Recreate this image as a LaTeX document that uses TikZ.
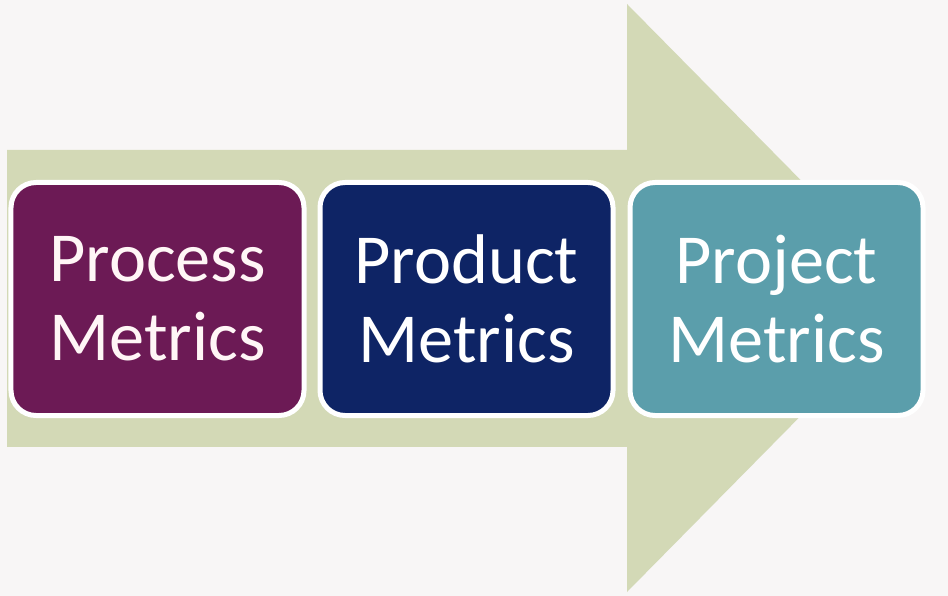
\documentclass[tikz,border=0pt]{standalone}
\usepackage{fontspec}
\setmainfont{Carlito}
\usetikzlibrary{positioning}

\definecolor{pagebg}{HTML}{F8F6F6}
\definecolor{arrowkhaki}{HTML}{D3D9B6}
\definecolor{procpurple}{HTML}{6C1A55}
\definecolor{prodnavy}{HTML}{0E2465}
\definecolor{projteal}{HTML}{5B9EAB}

\begin{document}
\begin{tikzpicture}[
  x=0.2mm, y=-0.2mm,
  metric/.style={draw=white, line width=1mm, rounded corners=5mm, align=center,
    minimum width=58.6mm, minimum height=46.6mm, inner sep=0pt,
    font=\fontsize{40}{45}\selectfont, text=white},
  proc/.style={metric, fill=procpurple, text=pink!15!white},
  prod/.style={metric, fill=prodnavy},
  proj/.style={metric, fill=projteal},
]
\fill[pagebg] (0,0) rectangle (948,596);
\useasboundingbox (0,0) rectangle (948,596);

% big arrow behind the boxes
\fill[arrowkhaki] (7,150) -- (627,150) -- (627,4) -- (917,298)
  -- (627,592) -- (627,447) -- (7,447) -- cycle;

\node[proc] (process) at (157.5,299) {Process\\Metrics};
\node[prod, right=2.2mm of process] (product) {Product\\Metrics};
\node[proj, right=2.4mm of product] (project) {Project\\Metrics};
\end{tikzpicture}
\end{document}
